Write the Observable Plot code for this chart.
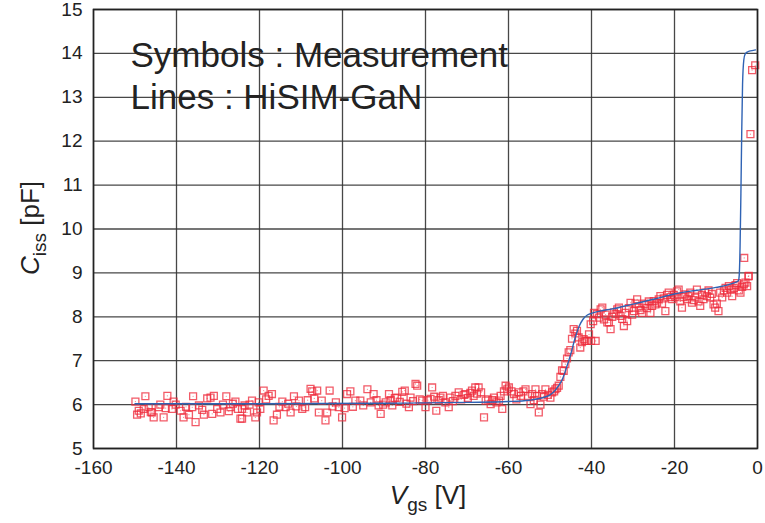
<!DOCTYPE html>
<html>
<head>
<meta charset="utf-8">
<script src="https://cdn.jsdelivr.net/npm/d3@7"></script>
<script src="https://cdn.jsdelivr.net/npm/@observablehq/plot@0.6"></script>
<style>
  html, body { margin: 0; padding: 0; background: #fff; }
  #chart { width: 765px; height: 523px; }
</style>
</head>
<body>
<div id="chart"></div>
<script>
// ---- Data ----
const xTicks = [-160, -140, -120, -100, -80, -60, -40, -20, 0];
const yTicks = [5, 6, 7, 8, 9, 10, 11, 12, 13, 14, 15];

const legendLines = ["Symbols : Measurement", "Lines : HiSIM-GaN"];

// Measurement (symbols): Vgs [V]
const measVgs = [
  -149.9,-149.5,-149.1,-148.6,-147.9,-147.5,-146.7,-146.2,-145.9,-145.5,-144.3,-143.9,-143.1,-142.6,-142.2,-141.1,-140.7,-140.2,-139.0,-138.3,-137.7,-137.0,-136.2,-136.0,-135.4,-134.6,-133.8,-133.4,-132.6,-131.8,-131.4,-131.0,-130.2,-129.4,-128.8,-128.0,-127.4,-127.0,-126.4,-125.8,-125.2,-124.6,
  -124.2,-124.2,-123.6,-123.0,-122.4,-121.8,-121.0,-120.6,-120.2,-119.8,-119.0,-118.4,-117.8,-117.0,-116.6,-115.8,-115.2,-114.5,-113.7,-113.1,-112.5,-111.7,-111.1,-110.5,-109.7,-109.0,-108.4,-107.7,-107.3,-106.8,-106.1,-105.7,-105.0,-104.1,-103.7,-103.1,-102.4,-101.6,-100.9,-100.1,-99.5,-98.9,-98.1,-97.5,-96.9,
  -95.7,-95.0,-94.0,-93.2,-92.5,-91.8,-91.3,-90.8,-90.2,-89.6,-88.8,-88.4,-88.0,-87.4,-86.8,-86.2,-85.6,-85.0,-84.6,-84.0,-83.6,-83.0,-82.4,-82.0,-81.4,-80.8,-80.0,-79.4,-78.8,-78.4,-77.9,-77.4,-76.8,-76.4,-75.8,-75.2,-74.4,-74.0,-73.4,-72.8,-72.0,-71.4,-70.8,-70.4,-69.8,-69.2,-68.8,-68.4,-68.0,
  -67.6,-67.2,-66.6,-65.9,-65.5,-64.9,-64.3,-63.9,-63.5,-62.9,-62.3,-61.9,-61.5,-61.1,-60.7,-60.3,-59.9,-59.3,-58.7,-58.1,-57.5,-57.0,-56.4,-55.9,-55.3,-54.7,-54.3,-53.9,-53.5,-53.1,-52.7,-52.3,-51.9,-51.5,-51.1,-50.5,-49.9,-49.5,-49.0,-48.7,-48.3,-47.9,-47.5,
  -47.1,-46.7,-46.3,-45.9,-45.5,-45.1,-44.7,-44.3,-43.9,-43.5,-43.1,-42.7,-42.3,-41.9,-41.5,-41.1,-40.6,-40.2,-40.1,-39.6,-39.4,-39.0,-38.7,-38.2,-37.8,
  -37.4,-37.0,-36.6,-36.2,-35.8,-35.4,-35.0,-34.6,-34.2,-33.8,-33.4,-33.0,-32.6,-32.2,-31.8,-31.4,-31.0,-30.6,-30.2,-29.8,-29.4,-29.0,-28.6,-28.2,-27.8,-27.4,-27.0,-26.6,-26.2,-25.8,-25.4,-25.0,-24.6,-24.2,-23.8,-23.4,-23.0,-22.6,-22.2,-21.8,-21.4,-21.0,-20.6,-20.2,
  -19.8,-19.4,-19.0,-18.6,-18.2,-17.8,-17.4,-17.0,-16.6,-16.2,-15.8,-15.4,-15.0,-14.6,-14.2,-13.8,-13.4,-13.0,-12.6,-12.2,-11.8,-11.4,-11.0,-10.6,-10.2,-9.8,-9.4,-9.0,-8.5,-8.1,-7.7,-7.3,-6.9,-6.5,-6.1,-5.7,-5.3,-4.9,-4.5,-4.1,-3.7,-3.3,-2.9,-2.5,-2.2,-2.1,
  -3.2,-1.7,-1.3,-0.55
];
// Measurement (symbols): Ciss [pF]
const measCiss = [
  6.07,5.77,5.86,5.80,5.90,6.19,5.94,5.83,5.82,5.71,5.94,6.00,5.71,5.92,6.20,5.90,6.07,6.00,5.86,5.71,5.95,5.77,5.94,6.19,5.60,5.98,5.88,5.77,6.14,6.16,5.79,6.20,5.90,5.82,6.00,6.19,5.85,5.94,6.02,6.07,5.90,5.68,
  5.90,5.68,5.98,5.82,6.00,6.09,5.71,5.82,6.05,5.90,6.32,6.12,6.20,6.24,5.64,5.77,5.95,6.07,5.94,6.02,5.82,6.19,5.96,6.09,5.90,5.94,6.10,6.36,6.30,6.14,6.32,5.82,6.09,5.64,5.82,6.32,5.96,6.05,5.94,5.71,5.92,6.24,6.30,5.95,6.09,
  6.09,5.98,6.35,6.05,6.24,6.10,5.98,5.79,6.00,6.05,6.24,6.10,5.98,6.15,6.16,6.06,6.29,6.32,6.02,5.94,6.16,6.08,6.47,6.43,6.12,6.09,5.94,6.10,6.13,6.39,6.18,5.86,6.10,6.16,6.20,6.05,5.94,6.16,6.08,6.20,6.28,6.12,6.22,6.24,6.15,6.27,6.32,6.20,6.39,
  6.25,6.39,6.28,5.71,6.09,6.12,6.01,6.10,6.16,6.05,6.09,6.20,5.90,6.30,6.43,6.35,6.39,6.30,6.24,6.12,6.28,6.20,6.30,6.35,6.20,6.01,6.24,6.10,6.35,6.20,5.82,6.00,6.24,6.18,6.35,6.22,6.16,6.28,6.30,6.35,6.38,6.43,6.63,
  6.78,6.77,6.92,7.05,7.19,7.24,7.50,7.72,7.62,7.68,7.53,7.30,7.42,7.49,7.45,7.45,7.60,7.83,7.45,7.90,8.09,7.45,8.06,7.98,8.17,
  8.21,7.94,8.05,7.87,7.87,7.72,8.00,8.10,8.06,8.17,8.21,8.02,7.95,7.79,8.09,7.90,8.20,8.32,8.05,8.13,8.30,8.40,8.21,8.15,8.09,8.30,8.28,8.20,8.35,8.09,8.25,8.36,8.28,8.32,8.40,8.47,8.30,8.42,8.13,8.50,8.55,8.45,8.40,8.50,
  8.45,8.58,8.62,8.35,8.21,8.45,8.51,8.40,8.47,8.55,8.32,8.38,8.44,8.62,8.35,8.25,8.50,8.40,8.55,8.47,8.60,8.44,8.52,8.28,8.21,8.30,8.13,8.55,8.44,8.60,8.66,8.55,8.70,8.62,8.47,8.66,8.72,8.77,8.60,8.55,8.68,8.74,8.78,8.70,8.92,8.93,
  9.34,12.16,13.62,13.73
];

// HiSIM-GaN model (line)
const modelVgs  = [-150,-120,-90,-70,-60,-55,-52,-50,-49,-48,-47,-46,-45,-44,-43,-42,-41,-40,-38,-35,-30,-25,-20,-15,-10,-6,-4.6,-4.4,-4.2,-4.0,-3.8,-3.6,-3.3,-3.0,-2.5,-2.0,-1.0,-0.5];
const modelCiss = [6.02,6.02,6.03,6.05,6.07,6.10,6.15,6.22,6.30,6.42,6.58,6.85,7.15,7.50,7.78,7.95,8.04,8.08,8.13,8.18,8.29,8.40,8.52,8.60,8.67,8.76,8.82,8.95,9.60,10.80,12.20,13.30,13.85,13.98,14.03,14.05,14.07,14.08];

// ---- Build tables ----
const meas = measVgs.map((v, i) => ({vgs: v, ciss: measCiss[i]}));
const model = modelVgs.map((v, i) => ({vgs: v, ciss: modelCiss[i]}));

const FONT = "'Liberation Sans', Arial, Helvetica, sans-serif";
const INK = "#222";

const chart = Plot.plot({
  width: 765,
  height: 523,
  marginLeft: 93,
  marginRight: 8,
  marginTop: 9,
  marginBottom: 75,
  style: {fontFamily: FONT, fontSize: "19px", color: INK, background: "#fff", overflow: "visible"},
  x: {domain: [-160, 0], label: null},
  y: {domain: [5, 15], label: null},
  marks: [
    Plot.gridX(xTicks, {stroke: "#333", strokeOpacity: 0.9, strokeWidth: 1.3}),
    Plot.gridY(yTicks, {stroke: "#333", strokeOpacity: 0.9, strokeWidth: 1.3}),
    Plot.axisX(xTicks, {tickSize: 0, tickPadding: 12, fontSize: 19, tickFormat: d => String(d).replace("\u2212", "-")}),
    Plot.axisY(yTicks, {tickSize: 0, tickPadding: 11, fontSize: 19}),
    Plot.dot(meas, {x: "vgs", y: "ciss", symbol: "square", r: 3.9, fill: "none",
                    stroke: "#ee2c3c", strokeOpacity: 0.78, strokeWidth: 1.3}),
    Plot.dot(meas, {x: "vgs", y: "ciss", r: 0.6, fill: "#ee2c3c", fillOpacity: 0.6, stroke: "none"}),
    Plot.line(model, {x: "vgs", y: "ciss", stroke: "#2f63b4", strokeWidth: 1.4, curve: "monotone-x"}),
    Plot.frame({stroke: INK, strokeWidth: 1.6}),
    Plot.text([legendLines[0]], {frameAnchor: "top-left", dx: 37, dy: 46, textAnchor: "start",
                                 lineAnchor: "middle", fontSize: 35, fill: INK}),
    Plot.text([legendLines[1]], {frameAnchor: "top-left", dx: 37, dy: 88, textAnchor: "start",
                                 lineAnchor: "middle", fontSize: 35, fill: INK})
  ]
});

// Axis titles with italic symbols and subscripts
const svg = d3.select(chart);
const xt = svg.append("text")
  .attr("x", 428).attr("y", 504)
  .attr("text-anchor", "middle")
  .attr("font-family", FONT).attr("font-size", 26).attr("fill", INK);
xt.append("tspan").attr("font-style", "italic").text("V");
xt.append("tspan").attr("font-size", 19).attr("dy", 7).text("gs");
xt.append("tspan").attr("dy", -7).text(" [V]");

const yt = svg.append("text")
  .attr("transform", "translate(39,228) rotate(-90)")
  .attr("text-anchor", "middle")
  .attr("font-family", FONT).attr("font-size", 26).attr("fill", INK);
yt.append("tspan").attr("font-style", "italic").text("C");
yt.append("tspan").attr("font-size", 19).attr("dy", 7).text("iss");
yt.append("tspan").attr("dy", -7).text(" [pF]");

document.getElementById("chart").appendChild(chart);
</script>
</body>
</html>
